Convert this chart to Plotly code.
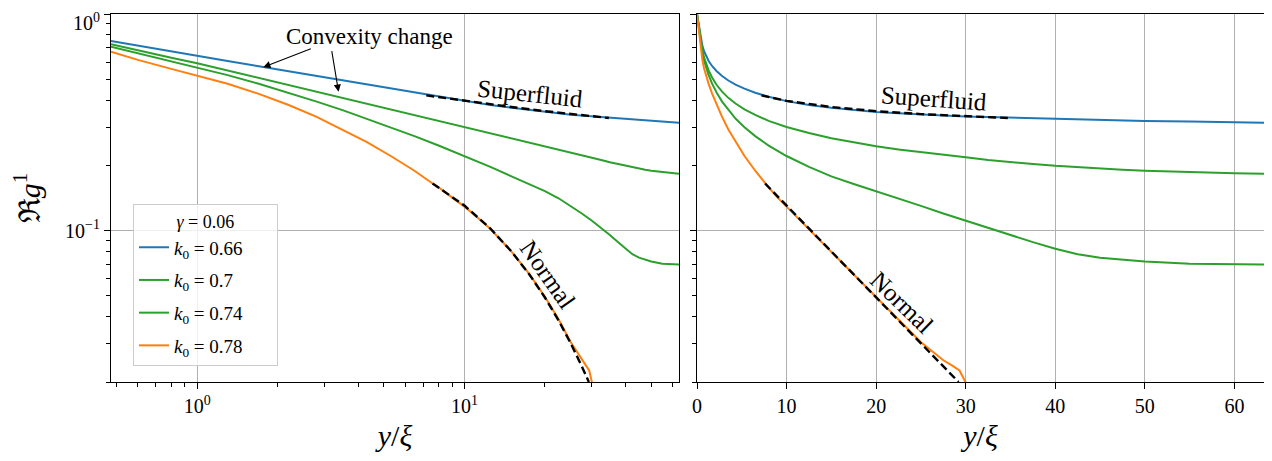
import numpy as np
import plotly.graph_objects as go

# the page body adds an 8 px margin, so the figure is 8 px smaller and
# every reference pixel position is shifted back by OFF
OFF = 8
W, H = 1272 - OFF, 461 - OFF

# shared sample positions y/xi
x_vals = [0, 0.476, 0.6, 0.8, 1.0, 1.3, 1.7, 2.2, 2.8, 3.5, 4.3, 5.3, 6.5, 8, 10,
          12.5, 15, 17.5, 20, 22.5, 25, 27.5, 30, 32.5, 35, 37.5, 40, 42.5, 45, 47.5,
          50, 55, 60, 63.5]

g_k066 = [1.0, 0.750, 0.713, 0.671, 0.642, 0.607, 0.574, 0.544, 0.517, 0.493, 0.472,
          0.452, 0.433, 0.415, 0.396, 0.380, 0.369, 0.360, 0.353, 0.348, 0.343, 0.340,
          0.336, 0.334, 0.331, 0.329, 0.327, 0.326, 0.324, 0.323, 0.321, 0.319, 0.317,
          0.315]
g_k070 = [1.0, 0.725, 0.678, 0.628, 0.593, 0.549, 0.508, 0.470, 0.438, 0.410, 0.386,
          0.363, 0.342, 0.321, 0.301, 0.282, 0.267, 0.255, 0.245, 0.237, 0.230, 0.223,
          0.218, 0.212, 0.207, 0.203, 0.199, 0.196, 0.193, 0.191, 0.189, 0.186, 0.184,
          0.183]
g_k074 = [1.0, 0.707, 0.660, 0.607, 0.568, 0.522, 0.476, 0.433, 0.394, 0.360, 0.329,
          0.300, 0.273, 0.247, 0.221, 0.197, 0.178, 0.164, 0.152, 0.141, 0.130, 0.120,
          0.111, 0.103, 0.0955, 0.0885, 0.0825, 0.0778, 0.0750, 0.0733, 0.0720, 0.0703,
          0.0700, 0.0698]

x_k078 = [0, 0.476, 0.6, 0.8, 1.0, 1.3, 1.7, 2.2, 2.8, 3.5, 4.3, 5.3, 6.5, 7.6, 8, 9,
          10, 11, 12.5, 15, 17.5, 20, 22.5, 25, 26.5, 27.5, 28.5, 29.3, 30.0]
g_k078 = [1.0, 0.670, 0.614, 0.558, 0.519, 0.476, 0.428, 0.380, 0.335, 0.293, 0.257,
          0.221, 0.189, 0.165, 0.1585, 0.142, 0.129, 0.117, 0.102, 0.080, 0.063, 0.0495,
          0.0390, 0.0305, 0.0272, 0.0252, 0.0238, 0.0226, 0.0199]

# fitted asymptotes (dashed)
sf_x = [7.2, 10, 15, 20, 25, 30, 34.7]
sf_y = [0.421, 0.397, 0.372, 0.356, 0.345, 0.337, 0.331]
nm_x = [7.6, 10, 12.5, 15, 17.5, 20, 22.5, 25, 27.5, 29.2]
nm_y = [0.165, 0.1305, 0.1022, 0.0801, 0.0627, 0.0491, 0.0385, 0.0301, 0.0236, 0.0200]

series = [
    ("<i>k</i><sub>0</sub> = 0.66", x_vals, g_k066, "#1f77b4"),
    ("<i>k</i><sub>0</sub> = 0.7", x_vals, g_k070, "#2ca02c"),
    ("<i>k</i><sub>0</sub> = 0.74", x_vals, g_k074, "#2ca02c"),
    ("<i>k</i><sub>0</sub> = 0.78", x_k078, g_k078, "#ff7f0e"),
]

FONT = "Liberation Serif"


def px2paper(px, py):
    return (px - OFF) / W, 1 - (py - OFF) / H


fig = go.Figure()

for xref, yref, show in [("x", "y", True), ("x2", "y2", False)]:
    for i, (name, xs, ys, color) in enumerate(series):
        # log axis cannot show y/xi = 0
        if xref == "x":
            xs, ys = xs[1:], ys[1:]
        fig.add_trace(go.Scatter(
            x=xs, y=ys, mode="lines", name=name, showlegend=show,
            legendgroup=f"g{i}",
            line=dict(color=color, width=2), xaxis=xref, yaxis=yref,
        ))
    for fx, fy in [(sf_x, sf_y), (nm_x, nm_y)]:
        fig.add_trace(go.Scatter(
            x=fx, y=fy, mode="lines", showlegend=False,
            line=dict(color="black", width=2.4, dash="8px,4px"),
            xaxis=xref, yaxis=yref,
        ))

x1_dom = [(111 - OFF) / W, (679 - OFF) / W]
x2_dom = [(697 - OFF) / W, (1264 - OFF) / W]
y_dom = [1 - (382 - OFF) / H, 1 - (14 - OFF) / H]

grid = "#b0b0b0"
common = dict(
    showline=True, linecolor="black", linewidth=1.2, mirror=True,
    ticks="outside", ticklen=6, tickwidth=1, tickcolor="black",
    gridcolor=grid, gridwidth=1, zeroline=False,
    tickfont=dict(family=FONT, size=20, color="black"),
    automargin=False, ticklabeloverflow="allow",
)

y_minor = [0.02, 0.03, 0.04, 0.05, 0.06, 0.07, 0.08, 0.09,
           0.2, 0.3, 0.4, 0.5, 0.6, 0.7, 0.8, 0.9]
x_minor = [0.5, 0.6, 0.7, 0.8, 0.9, 2, 3, 4, 5, 6, 7, 8, 9, 20, 30, 40, 50, 60]
minor = dict(ticks="outside", ticklen=3.5, tickcolor="black", showgrid=False)
title_font = dict(family=FONT, size=30, color="black")

fig.update_layout(
    width=W, height=H,
    margin=dict(l=0, r=0, t=0, b=0),
    plot_bgcolor="white", paper_bgcolor="white",
    font=dict(family=FONT, color="black"),
    xaxis=dict(
        common, domain=x1_dom, type="log",
        range=[np.log10(0.476), np.log10(63.5)],
        tickmode="array", tickvals=[1, 10],
        ticktext=["10<sup>0</sup>", "10<sup>1</sup>"],
        minor=dict(minor, tickmode="array", tickvals=x_minor),
        title=dict(text="<i>y</i>/<i>ξ</i>", font=title_font, standoff=8),
    ),
    yaxis=dict(
        common, domain=y_dom, type="log",
        range=[np.log10(0.02), 0],
        # the label of the top tick sits at the page edge; it is drawn as an annotation
        tickmode="array", tickvals=[0.1, 1],
        ticktext=["10<sup>−1</sup>", ""],
        minor=dict(minor, tickmode="array", tickvals=y_minor),
        title=dict(text="ℜ<i>g</i><sup>1</sup>", font=title_font, standoff=18),
    ),
    xaxis2=dict(
        common, domain=x2_dom, anchor="y2",
        range=[0, 63.3],
        tickmode="array", tickvals=[0, 10, 20, 30, 40, 50, 60],
        title=dict(text="<i>y</i>/<i>ξ</i>", font=title_font, standoff=8),
    ),
    yaxis2=dict(
        common, domain=y_dom, anchor="x2", type="log",
        range=[np.log10(0.02), 0],
        tickmode="array", tickvals=[0.1, 1], showticklabels=False,
        minor=dict(minor, tickmode="array", tickvals=y_minor),
    ),
    legend=dict(
        x=(133 - OFF) / W, y=1 - (204 - OFF) / H, xanchor="left", yanchor="top",
        bgcolor="rgba(255,255,255,0.8)", bordercolor="#cccccc", borderwidth=1,
        font=dict(family=FONT, size=19),
        title=dict(text="         <i>γ</i> = 0.06         ", font=dict(family=FONT, size=18)),
        tracegroupgap=5, itemwidth=30,
    ),
    showlegend=True,
)

annotations = []
tx, ty = px2paper(102, 8)
annotations.append(dict(x=tx, y=ty, xref="paper", yref="paper", text="10<sup>0</sup>",
                        xanchor="right", yanchor="top", showarrow=False,
                        font=dict(family=FONT, size=20)))

cx, cy = px2paper(369, 37)
annotations.append(dict(x=cx, y=cy, xref="paper", yref="paper", text="Convexity change",
                        xanchor="center", yanchor="middle",
                        showarrow=False, font=dict(size=23)))
# arrows: head on the curve, tail below the text
annotations.append(dict(x=np.log10(1.768), y=np.log10(0.568), xref="x", yref="y", text="",
                        showarrow=True, ax=49, ay=-19, arrowhead=2, arrowsize=1.3,
                        arrowwidth=1.1, arrowcolor="black"))
annotations.append(dict(x=np.log10(3.38), y=np.log10(0.438), xref="x", yref="y", text="",
                        showarrow=True, ax=-7, ay=-42, arrowhead=2, arrowsize=1.3,
                        arrowwidth=1.1, arrowcolor="black"))

for (px, py), ang, txt in [((530, 94), 6, "Superfluid"), ((934, 98), 4, "Superfluid"),
                           ((548, 274), 55, "Normal"), ((902, 302), 44, "Normal")]:
    ax_, ay_ = px2paper(px, py)
    annotations.append(dict(x=ax_, y=ay_, xref="paper", yref="paper", text=txt,
                            xanchor="center", yanchor="middle",
                            textangle=ang, showarrow=False, font=dict(size=25)))

fig.update_layout(annotations=annotations)

fig.write_html("out.html")
